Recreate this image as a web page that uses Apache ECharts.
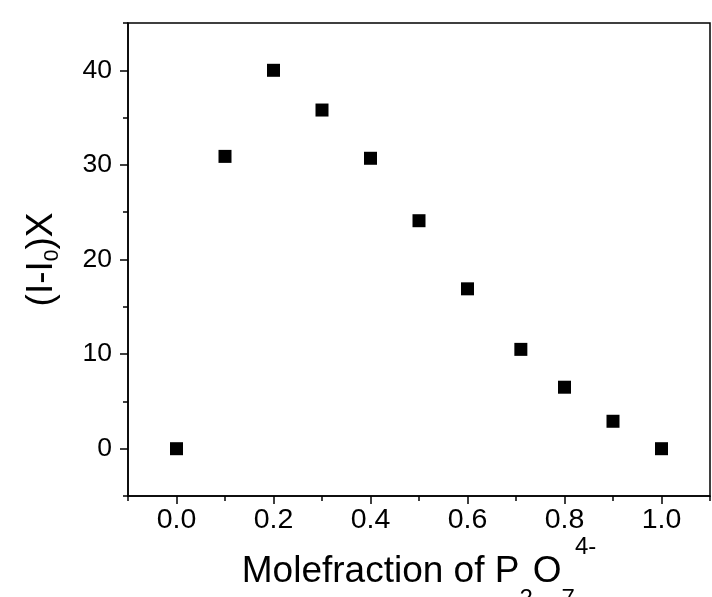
<!DOCTYPE html>
<html><head><meta charset="utf-8">
<script src="https://cdn.jsdelivr.net/npm/echarts@6/dist/echarts.min.js"></script>
<style>html,body{margin:0;padding:0;background:#fff}#c{width:712px;height:597px}</style>
</head><body><div id="c"></div>
<script>
const xValues = [0, 0.1, 0.2, 0.3, 0.4, 0.5, 0.6, 0.71, 0.8, 0.9, 1.0];
const yValues = [0, 30.9, 40.0, 35.8, 30.7, 24.1, 16.9, 10.5, 6.5, 2.9, 0];
const xMajorTicks = [0, 0.2, 0.4, 0.6, 0.8, 1.0];
const xMinorTicks = [-0.1, 0.1, 0.3, 0.5, 0.7, 0.9, 1.1];
const yMajorTicks = [0, 10, 20, 30, 40];
const yMinorTicks = [-5, 5, 15, 25, 35, 45];
const xTitle = 'Molefraction of P{sub|2}O{sub|7}{sup|4-}';
const yTitle = '(I-I{sub|0})X';

const FF = 'Arial, "Liberation Sans", sans-serif';
const black = '#000';
const points = xValues.map((x, i) => [x, yValues[i]]);

const chart = echarts.init(document.getElementById('c'), null, {renderer: 'canvas'});
chart.setOption({
  backgroundColor: '#fff',
  animation: false,
  grid: {left: 128, right: 2, top: 23, bottom: 101, show: true, borderColor: black, borderWidth: 1.5,
         containLabel: false, outerBoundsMode: 'none'},
  xAxis: [
    {
      type: 'value', min: -0.1, max: 1.1, position: 'bottom', offset: 0,
      axisLine: {show: true, onZero: false, lineStyle: {color: black, width: 1.5}},
      axisTick: {show: true, inside: false, length: 8, customValues: xMajorTicks, lineStyle: {color: black, width: 1.5}},
      axisLabel: {show: true, customValues: xMajorTicks, formatter: v => Number(v).toFixed(1),
                  fontSize: 28.5, color: black, fontFamily: FF, margin: 10},
      splitLine: {show: false},
      name: xTitle, nameLocation: 'middle', nameGap: 57, nameMoveOverlap: false,
      nameTextStyle: {fontSize: 37, color: black, fontFamily: FF,
        rich: {
          sub: {fontSize: 24, lineHeight: 24, color: black, fontFamily: FF, padding: [56, 0, 0, 0]},
          sup: {fontSize: 24, lineHeight: 24, color: black, fontFamily: FF, padding: [0, 0, 48, 0]}
        }}
    },
    {
      type: 'value', min: -0.1, max: 1.1, position: 'bottom', offset: 0,
      axisLine: {show: false, onZero: false},
      axisTick: {show: true, inside: false, length: 5, customValues: xMinorTicks, lineStyle: {color: black, width: 1.5}},
      axisLabel: {show: false},
      splitLine: {show: false}
    }
  ],
  yAxis: [
    {
      type: 'value', min: -5, max: 45, position: 'left', offset: 0,
      axisLine: {show: true, onZero: false, lineStyle: {color: black, width: 1.5}},
      axisTick: {show: true, inside: false, length: 8, customValues: yMajorTicks, lineStyle: {color: black, width: 1.5}},
      axisLabel: {show: true, customValues: yMajorTicks, formatter: v => String(v),
                  fontSize: 26.5, color: black, fontFamily: FF, margin: 16},
      splitLine: {show: false},
      name: yTitle, nameLocation: 'middle', nameRotate: 90, nameGap: 68, nameMoveOverlap: false,
      nameTextStyle: {fontSize: 37, color: black, fontFamily: FF,
        rich: {
          sub: {fontSize: 21, lineHeight: 21, color: black, fontFamily: FF, padding: [22, 0, 0, 0]}
        }}
    },
    {
      type: 'value', min: -5, max: 45, position: 'left', offset: 0,
      axisLine: {show: false, onZero: false},
      axisTick: {show: true, inside: false, length: 5, customValues: yMinorTicks, lineStyle: {color: black, width: 1.5}},
      axisLabel: {show: false},
      splitLine: {show: false}
    }
  ],
  series: [{
    type: 'scatter', xAxisIndex: 0, yAxisIndex: 0,
    symbol: 'rect', symbolSize: 13,
    itemStyle: {color: black, opacity: 1},
    data: points
  }]
});
</script>
</body></html>
